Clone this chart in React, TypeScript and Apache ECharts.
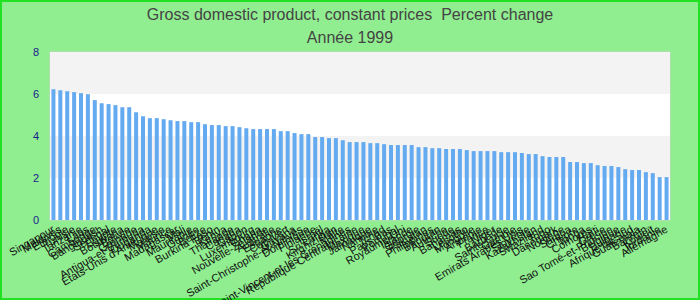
import React, { useEffect, useRef } from "react";
import * as echarts from "echarts";

const titleText = "Gross domestic product, constant prices  Percent change";
const subtitleText = "Année 1999";

const countries: string[] = [
  "Singapour", "Maldives", "Éthiopie", "Tunisie", "Tanzanie", "Laos", "Cambodge", "Bangladesh", "Sénégal", "Égypte",
  "Botswana", "Bolivie", "Grenade", "Antigua-et-Barbuda", "Ouganda", "États-Unis d'Amérique", "Malaisie", "Maurice", "Madagascar", "Mali",
  "Mauritanie", "Guinée", "Belize", "Burkina Faso", "Bénin", "Kenya", "Thaïlande", "Canada", "Gabon", "Luxembourg",
  "Ghana", "Nouvelle-Zélande", "Australie", "Espagne", "Cap-Vert", "Guyana", "Saint-Christophe-et-Niévès", "Dominique", "Finlande", "Israël",
  "Sri Lanka", "Kirghizistan", "Malte", "Saint-Vincent-et-les Grenadines", "République Centrafricaine", "Mexique", "Jamaïque", "Namibie", "Tchad", "Pays-Bas",
  "Portugal", "Royaume-Uni", "Islande", "Géorgie", "Pakistan", "Philippines", "Bhoutan", "Autriche", "Suède", "Bahamas",
  "Lesotho", "Mongolie", "Arménie", "France", "Niger", "Barbade", "Sainte-Lucie", "Gambie", "Emirats Arabes Unis", "Slovénie",
  "Kazakhstan", "Swaziland", "Togo", "Danemark", "Norvège", "Samoa", "Chypre", "Tonga", "Comores", "Haïti",
  "Grèce", "Sao Tomé-et-Principe", "Belgique", "Bulgarie", "Afrique du Sud", "Guatemala", "Bahreïn", "Koweït", "Jordanie", "Allemagne",
];

const growth: number[] = [
  6.23, 6.18, 6.13, 6.09, 6.04, 5.99, 5.71, 5.56, 5.52, 5.47,
  5.37, 5.37, 5.13, 4.94, 4.85, 4.85, 4.8, 4.75, 4.71, 4.71,
  4.66, 4.66, 4.56, 4.52, 4.52, 4.47, 4.47, 4.42, 4.37, 4.33,
  4.33, 4.33, 4.33, 4.23, 4.23, 4.14, 4.09, 4.09, 3.95, 3.95,
  3.9, 3.9, 3.8, 3.71, 3.71, 3.71, 3.66, 3.66, 3.61, 3.57,
  3.57, 3.57, 3.57, 3.47, 3.47, 3.42, 3.42, 3.38, 3.38, 3.38,
  3.33, 3.28, 3.28, 3.28, 3.28, 3.23, 3.23, 3.23, 3.19, 3.14,
  3.14, 3.04, 3.0, 3.0, 3.0, 2.76, 2.76, 2.71, 2.71, 2.61,
  2.57, 2.57, 2.52, 2.42, 2.38, 2.38, 2.28, 2.23, 2.04, 2.04,
];

const yMin = 0;
const yMax = 8;
const yStep = 2;

export default function App() {
  const ref = useRef<HTMLDivElement>(null);
  useEffect(() => {
    if (!ref.current) return;
    const chart = echarts.init(ref.current, undefined, { renderer: "svg" });
    chart.setOption({
      animation: false,
      backgroundColor: "#90ee90",
      textStyle: { fontFamily: "Liberation Sans, Arial, sans-serif" },
      title: [
        {
          text: titleText,
          left: "center",
          top: 1,
          textStyle: { fontSize: 16, fontWeight: "normal", color: "#444" },
        },
        {
          text: subtitleText,
          left: "center",
          top: 24,
          textStyle: { fontSize: 16, fontWeight: "normal", color: "#444" },
        },
      ],
      graphic: [
        {
          type: "rect",
          shape: { x: 1, y: 1, width: 698, height: 298 },
          style: { fill: "none", stroke: "#22e022", lineWidth: 2 },
          silent: true,
        },
      ],
      grid: {
        left: 50,
        right: 30,
        top: 52,
        bottom: 80,
        show: true,
        borderColor: "#cccccc",
        borderWidth: 1,
        backgroundColor: "#ffffff",
        containLabel: false,
        outerBoundsMode: "none",
      },
      xAxis: {
        type: "category",
        data: countries,
        axisLine: { show: false },
        axisTick: { show: false },
        axisLabel: {
          interval: 0,
          rotate: 30,
          fontSize: 11,
          color: "#111",
          margin: 8,
          hideOverlap: false,
        },
      },
      yAxis: {
        type: "value",
        min: yMin,
        max: yMax,
        interval: yStep,
        axisLine: { show: false },
        axisTick: { show: false },
        splitLine: { show: false },
        splitArea: { show: true, areaStyle: { color: ["#ffffff", "#f3f3f3"] } },
        axisLabel: { fontSize: 11, color: "#1a1a8c", margin: 11 },
      },
      series: [
        {
          type: "bar",
          data: growth,
          barWidth: "58%",
          itemStyle: { color: "#64aaf0" },
        },
      ],
    });
    return () => chart.dispose();
  }, []);
  return (
    <div style={{ position: "absolute", left: 0, top: 0, width: 700, height: 300 }}>
      <div ref={ref} style={{ width: 700, height: 300 }} />
    </div>
  );
}
